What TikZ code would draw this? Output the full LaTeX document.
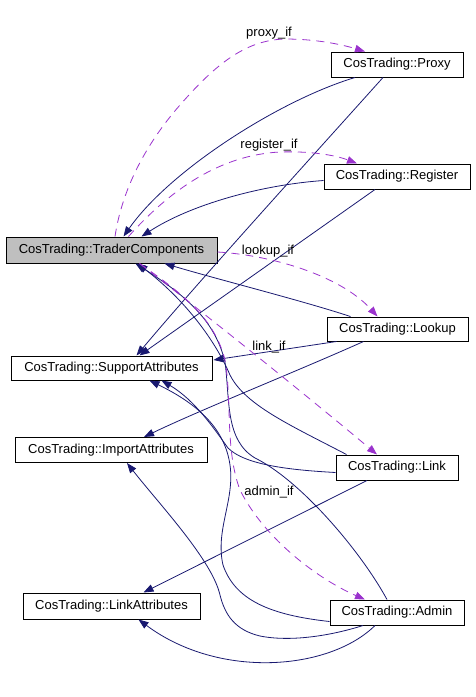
\documentclass[tikz,border=0pt]{standalone}
\usepackage{fontspec}
\setmainfont{Liberation Sans}
\usetikzlibrary{arrows.meta,calc}
\definecolor{edgeblue}{HTML}{191970}
\definecolor{edgepurple}{HTML}{9A32CD}
\definecolor{tcgray}{HTML}{BFBFBF}
\begin{document}
\begin{tikzpicture}[x=1pt,y=-1pt,
  cls/.style={draw=black, line width=1pt, inner sep=0pt, font=\fontsize{13}{15}\selectfont, minimum height=25pt},
  inh/.style={draw=edgeblue, line width=0.8pt, -{Triangle[length=10pt,width=7.5pt]}},
  use/.style={draw=edgepurple, line width=0.8pt, dash pattern=on 8pt off 6pt, -{Triangle[length=10pt,width=7.5pt]}},
  lbl/.style={font=\fontsize{13}{15}\selectfont, inner sep=0pt}]
\useasboundingbox (0,0) rectangle (475,697);
% classes
\node[cls, fill=tcgray, minimum width=211pt, minimum height=26pt] (tc) at (111.5,250) {CosTrading::TraderComponents};
\node[cls, minimum width=132pt] (proxy) at (397,64.5) {CosTrading::Proxy};
\node[cls, minimum width=146pt] (register) at (397,176.5) {CosTrading::Register};
\node[cls, minimum width=141pt, minimum height=24pt] (lookup) at (397.5,329) {CosTrading::Lookup};
\node[cls, minimum width=201pt, minimum height=24pt] (sa) at (111.5,368) {CosTrading::SupportAttributes};
\node[cls, minimum width=192pt] (ia) at (111,450) {CosTrading::ImportAttributes};
\node[cls, minimum width=122pt] (link) at (397,467.5) {CosTrading::Link};
\node[cls, minimum width=177pt, minimum height=26pt] (la) at (111.5,606) {CosTrading::LinkAttributes};
\node[cls, minimum width=134pt] (admin) at (397,612.5) {CosTrading::Admin};
% inheritance edges
\draw[inh] ($(proxy.south)+(-42,0)$) .. controls (280,100) and (170,170) .. ($(tc.north)+(12,0)$);
\draw[inh] ($(proxy.south)+(-14,0)$) .. controls (300,170) and (200,280) .. ($(sa.north)+(25,0)$);
\draw[inh] ($(register.west)+(0,4)$) .. controls (260,185) and (190,205) .. ($(tc.north)+(30,0)$);
\draw[inh] ($(register.south)+(-22,0)$) -- ($(sa.north)+(28,0)$);
\draw[inh] ($(lookup.north)+(-47,0)$) .. controls (300,300) and (220,280) .. ($(tc.south)+(53,0)$);
\draw[inh] ($(lookup.south west)+(10,0)$) -- ($(sa.east)+(1,-8)$);
\draw[inh] ($(lookup.south)+(-34,0)$) .. controls (300,370) and (200,410) .. ($(ia.north)+(33,0)$);
\draw[inh] ($(link.north west)+(11,0)$) .. controls (290,425) and (245,405) .. (230,375)
  .. controls (215,340) and (185,300) .. ($(tc.south)+(26,0)$);
\draw[inh] ($(admin.north)+(-10,0)$) .. controls (360,550) and (300,480) .. (255,458)
  .. controls (225,440) and (230,400) .. (225,362)
  .. controls (215,320) and (185,295) .. ($(tc.south)+(24,0)$);
\draw[inh] ($(link.west)+(0,5)$) .. controls (290,470) and (245,465) .. (228,448)
  .. controls (215,430) and (195,400) .. ($(sa.south)+(50,0)$);
\draw[inh] ($(admin.west)+(0,9)$) .. controls (270,615) and (235,600) .. (223,565)
  .. controls (215,530) and (235,500) .. (230,465)
  .. controls (225,430) and (200,405) .. ($(sa.south)+(38,0)$);
\draw[inh] ($(link.south)+(-30,0)$) -- ($(la.north)+(32,0)$);
\draw[inh] ($(admin.south)+(-34,0)$) .. controls (330,636) and (290,642) .. (260,636)
  .. controls (235,630) and (225,615) .. (220,595)
  .. controls (212,560) and (160,505) .. ($(ia.south)+(16,0)$);
\draw[inh] ($(admin.south)+(-22,0)$) .. controls (330,670) and (220,680) .. ($(la.south)+(27,0)$);
% usage edges
\draw[use] ($(tc.north)+(3.5,0)$) .. controls (122,190) and (145,145) .. (180,105)
  .. controls (215,65) and (245,40) .. (285,39)
  .. controls (315,39) and (340,44) .. ($(proxy.north)+(-32,0)$);
\draw[use] ($(tc.north)+(17,0)$) .. controls (170,190) and (220,155) .. (280,152)
  .. controls (310,151) and (335,155) .. ($(register.north)+(-40,0)$);
\draw[use] ($(tc.east)+(0,2)$) .. controls (270,255) and (340,275) .. ($(lookup.north)+(-20,0)$);
\draw[use] ($(tc.south)+(28,0)$) .. controls (200,310) and (300,390) .. ($(link.north)+(-20,0)$);
\draw[use] ($(tc.south)+(28,0)$) .. controls (185,295) and (215,320) .. (225,360)
  .. controls (232,400) and (225,450) .. (240,490)
  .. controls (265,540) and (320,580) .. ($(admin.north)+(-32,0)$);
% labels
\node[lbl] (lproxy) at (269,33) {proxy\_if};
\node[lbl] (lregister) at (269,145) {register\_if};
\node[lbl] (llookup) at (268,251) {lookup\_if};
\node[lbl] (llink) at (269,347) {link\_if};
\node[lbl] (ladmin) at (269,492) {admin\_if};
\end{tikzpicture}
\end{document}
